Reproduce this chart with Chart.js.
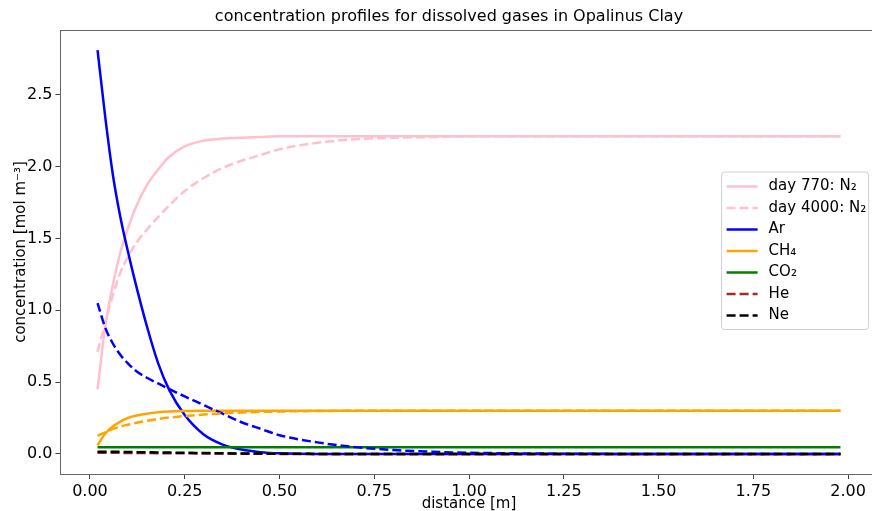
<!DOCTYPE html>
<html>
<head>
<meta charset="utf-8">
<script src="https://cdn.jsdelivr.net/npm/chart.js@4"></script>
<style>
  html, body { margin: 0; padding: 0; overflow: hidden; background: #fff; }
  #wrap { position: relative; width: 898px; height: 511px; }
</style>
</head>
<body>
<div id="wrap"><canvas id="chart"></canvas></div>
<script>
// distance [m] at which the profiles were read
const distance = [0.02, 0.04, 0.06, 0.08, 0.10, 0.12, 0.15, 0.18, 0.21, 0.25, 0.30, 0.35, 0.40,
                  0.45, 0.50, 0.60, 0.70, 0.80, 0.90, 1.00, 1.20, 1.40, 1.60, 1.80, 1.98];

// concentrations [mol m^-3]
const n2Day770  = [0.45, 0.88, 1.17, 1.40, 1.57, 1.71, 1.87, 1.98, 2.07, 2.14, 2.18, 2.195, 2.20,
                   2.205, 2.21, 2.21, 2.21, 2.21, 2.21, 2.21, 2.21, 2.21, 2.21, 2.21, 2.21];
const n2Day4000 = [0.71, 0.91, 1.10, 1.26, 1.37, 1.46, 1.56, 1.65, 1.73, 1.83, 1.92, 1.99, 2.04,
                   2.08, 2.12, 2.165, 2.19, 2.20, 2.205, 2.21, 2.21, 2.21, 2.21, 2.21, 2.21];
const arDay770  = [2.81, 2.35, 1.95, 1.65, 1.41, 1.19, 0.89, 0.63, 0.44, 0.27, 0.135, 0.065, 0.03,
                   0.012, 0.004, 0, 0, 0, 0, 0, 0, 0, 0, 0, 0];
const arDay4000 = [1.05, 0.88, 0.77, 0.69, 0.63, 0.58, 0.53, 0.49, 0.45, 0.40, 0.34, 0.28, 0.22,
                   0.175, 0.13, 0.08, 0.047, 0.027, 0.015, 0.008, 0.002, 0, 0, 0, 0];
const ch4Day770 = [0.06, 0.14, 0.19, 0.225, 0.25, 0.265, 0.28, 0.29, 0.295, 0.298, 0.30, 0.30, 0.30,
                   0.30, 0.30, 0.30, 0.30, 0.30, 0.30, 0.30, 0.30, 0.30, 0.30, 0.30, 0.30];
const ch4Day4000 = [0.125, 0.15, 0.172, 0.19, 0.203, 0.215, 0.23, 0.243, 0.253, 0.263, 0.274, 0.282, 0.288,
                    0.292, 0.295, 0.298, 0.30, 0.30, 0.30, 0.30, 0.30, 0.30, 0.30, 0.30, 0.30];
const co2Day770 = [0.046, 0.046, 0.046, 0.046, 0.046, 0.046, 0.046, 0.046, 0.046, 0.046, 0.046, 0.046, 0.046,
                   0.046, 0.046, 0.046, 0.046, 0.046, 0.046, 0.046, 0.046, 0.046, 0.046, 0.046, 0.046];
const heDay4000 = [0.008, 0.008, 0.008, 0.007, 0.007, 0.007, 0.006, 0.005, 0.005, 0.004, 0.003, 0.002, 0.001,
                   0.001, 0, 0, 0, 0, 0, 0, 0, 0, 0, 0, 0];
const neDay4000 = [0.015, 0.015, 0.014, 0.014, 0.013, 0.012, 0.011, 0.010, 0.009, 0.008, 0.006, 0.004, 0.003,
                   0.002, 0.001, 0, 0, 0, 0, 0, 0, 0, 0, 0, 0];

const xMin = -0.078, xMax = 2.078, xStep = 0.25;
const yMin = -0.14, yMax = 2.95, yStep = 0.5;

const FONT = 'DejaVu Sans';
const DASH = [9, 4];

function series(label, values, color, dashed, inLegend) {
    return {
        label: label,
        data: distance.map((x, i) => ({ x: x, y: values[i] })),
        borderColor: color,
        backgroundColor: color,
        borderWidth: 2.5,
        borderDash: dashed ? DASH : [],
        pointRadius: 0,
        cubicInterpolationMode: 'monotone',
        fill: false,
        inLegend: inLegend
    };
}

const datasets = [
    series('day 770: N\u2082', n2Day770, 'pink', false, true),
    series('day 4000: N\u2082', n2Day4000, 'pink', true, true),
    series('Ar', arDay770, 'blue', false, true),
    series('CH\u2084', ch4Day770, 'orange', false, true),
    series('CO\u2082', co2Day770, 'green', false, true),
    series('Ar (day 4000)', arDay4000, 'blue', true, false),
    series('CH\u2084 (day 4000)', ch4Day4000, 'orange', true, false),
    series('He', heDay4000, 'brown', true, true),
    series('Ne', neDay4000, 'black', true, true)
];
// later datasets drawn on top
datasets.forEach((d, i) => { d.order = datasets.length - i; });

// matplotlib-like legend box inside the axes
const boxLegend = {
    id: 'boxLegend',
    afterDraw(chart) {
        const ctx = chart.ctx;
        const area = chart.chartArea;
        const items = chart.data.datasets.filter(d => d.inLegend);
        const rowH = 21.5;
        const left = area.right - 156, top = area.top + 142;
        const w = 147, h = items.length * rowH + 7;
        ctx.save();
        ctx.beginPath();
        if (ctx.roundRect) ctx.roundRect(left, top, w, h, 3); else ctx.rect(left, top, w, h);
        ctx.fillStyle = 'rgba(255,255,255,0.85)';
        ctx.fill();
        ctx.strokeStyle = '#d0d0d0';
        ctx.lineWidth = 1;
        ctx.stroke();
        ctx.font = '15px "' + FONT + '"';
        ctx.textBaseline = 'middle';
        ctx.fillStyle = '#000';
        items.forEach((d, i) => {
            const y = top + 14.5 + i * rowH;
            ctx.beginPath();
            ctx.setLineDash(d.borderDash);
            ctx.strokeStyle = d.borderColor;
            ctx.lineWidth = 2.5;
            ctx.moveTo(left + 5, y);
            ctx.lineTo(left + 36, y);
            ctx.stroke();
            ctx.setLineDash([]);
            ctx.fillText(d.label, left + 47, y);
        });
        ctx.restore();
    }
};

// top spine
const frame = {
    id: 'frame',
    afterDatasetsDraw(chart) {
        const ctx = chart.ctx, a = chart.chartArea;
        ctx.save();
        ctx.strokeStyle = '#666';
        ctx.lineWidth = 1;
        ctx.beginPath();
        ctx.moveTo(a.left, a.top + 0.5);
        ctx.lineTo(a.right, a.top + 0.5);
        ctx.stroke();
        ctx.restore();
    }
};

new Chart(document.getElementById('chart'), {
    type: 'line',
    data: { datasets: datasets },
    plugins: [frame, boxLegend],
    options: {
        responsive: true,
        maintainAspectRatio: false,
        devicePixelRatio: 1,
        animation: false,
        layout: { padding: { left: 20.4, right: 20.4, top: 0, bottom: 0 } },
        plugins: {
            legend: { display: false },
            tooltip: { enabled: false },
            title: {
                display: true,
                text: 'concentration profiles for dissolved gases in Opalinus Clay',
                color: '#000',
                font: { family: FONT, size: 16, weight: 'normal' },
                padding: { top: 7, bottom: 3.8 }
            }
        },
        scales: {
            x: {
                type: 'linear',
                min: xMin,
                max: xMax,
                afterFit(scale) { scale.height = 37; },
                grid: { drawOnChartArea: false, drawTicks: true, tickLength: 5, color: '#444' },
                border: { display: true, color: '#666' },
                ticks: {
                    stepSize: xStep,
                    includeBounds: false,
                    autoSkip: false,
                    maxRotation: 0,
                    padding: 3,
                    color: '#000',
                    font: { family: FONT, size: 16 },
                    callback: v => v.toFixed(2)
                },
                title: {
                    display: true,
                    text: 'distance [m]',
                    color: '#000',
                    font: { family: FONT, size: 15 },
                    padding: { top: 0, bottom: -2 }
                }
            },
            y: {
                type: 'linear',
                min: yMin,
                max: yMax,
                afterFit(scale) { scale.width = 40; },
                grid: { drawOnChartArea: false, drawTicks: true, tickLength: 5, color: '#444' },
                border: { display: true, color: '#666' },
                ticks: {
                    stepSize: yStep,
                    includeBounds: false,
                    padding: 3,
                    color: '#000',
                    font: { family: FONT, size: 16 },
                    callback: v => v.toFixed(1)
                },
                title: {
                    display: true,
                    text: 'concentration [mol m\u207B\u00B3]',
                    color: '#000',
                    font: { family: FONT, size: 15 },
                    padding: { top: -8.4, bottom: 0 }
                }
            }
        }
    }
});
</script>
</body>
</html>
